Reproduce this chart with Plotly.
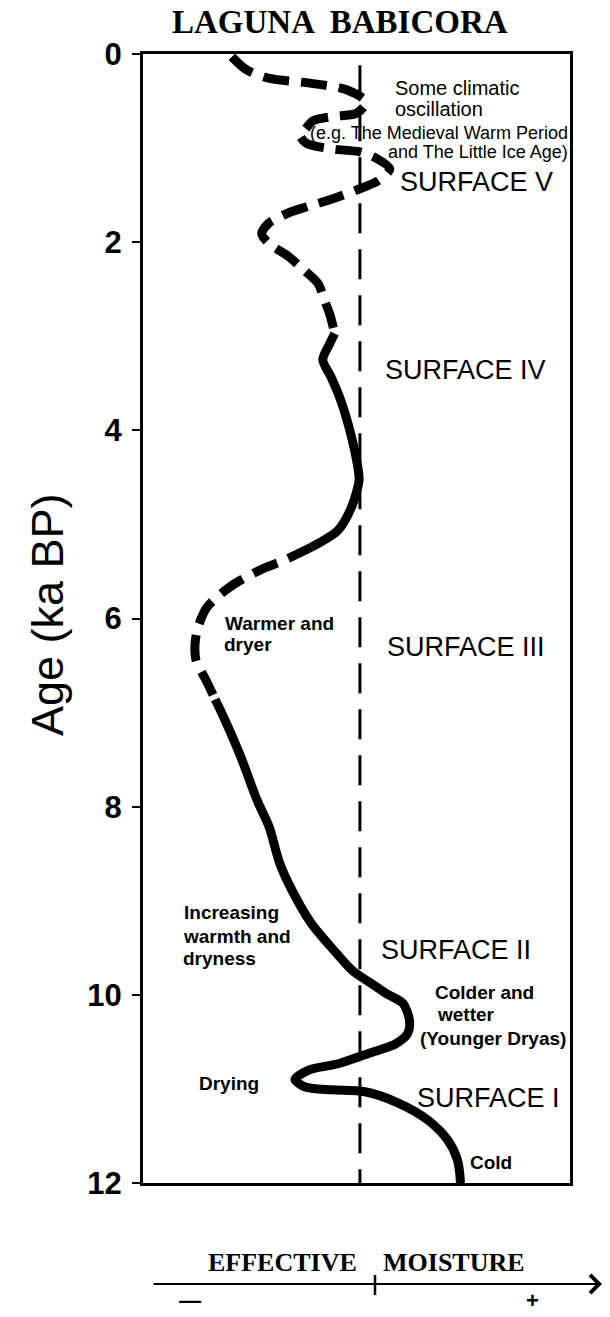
import plotly.graph_objects as go

# ---------------- data (age in ka BP, effective moisture as % of panel width) ----------
age_dash_top = [0.03, 0.17, 0.26, 0.31, 0.38, 0.51, 0.63, 0.66, 0.71, 0.80, 0.86, 0.95, 1.01,
                1.04, 1.11, 1.22, 1.34, 1.45, 1.53, 1.62, 1.69, 1.80, 1.91, 2.01, 2.15, 2.30,
                2.44, 2.62, 2.76, 2.97]
moist_dash_top = [20.8, 24.3, 29.7, 39.1, 47.7, 52.3, 50.0, 45.3, 39.8, 38.0, 36.7, 38.3, 44.5,
                  50.8, 54.7, 57.8, 55.3, 49.8, 45.0, 38.7, 34.0, 29.4, 27.8, 29.4, 34.0, 37.8,
                  41.0, 42.5, 43.7, 44.9]

age_solid_mid = [2.97, 3.10, 3.25, 3.43, 3.68, 4.03, 4.39, 4.53, 4.81, 5.06, 5.24]
moist_solid_mid = [44.9, 43.5, 42.1, 44.0, 46.3, 48.6, 50.3, 50.6, 48.9, 45.7, 39.5]

age_dash_mid = [5.24, 5.38, 5.48, 5.66, 5.88, 6.16, 6.44, 6.65, 6.86]
moist_dash_mid = [39.5, 33.1, 27.6, 20.5, 15.0, 12.5, 12.4, 14.7, 16.9]

age_solid_low = [6.86, 7.08, 7.47, 7.93, 8.21, 8.60, 8.89, 9.24, 9.49, 9.74, 9.88, 9.99, 10.09,
                 10.27, 10.41, 10.52, 10.62, 10.73, 10.80, 10.90, 10.98, 11.01, 11.03, 11.15,
                 11.33, 11.54, 11.75, 11.96, 12.0]
moist_solid_low = [16.9, 19.2, 22.9, 26.7, 29.5, 32.0, 34.9, 39.4, 44.0, 49.0, 53.5, 57.1, 60.9,
                   62.4, 62.0, 59.2, 53.0, 45.9, 38.8, 35.6, 38.0, 44.2, 52.0, 59.8,
                   66.7, 71.3, 73.6, 74.3, 74.3]

mean_moisture = 50.8          # dashed reference line
ref_age = [0.12, 12.0]

age_ticks = [0, 2, 4, 6, 8, 10, 12]

# notes: (text, age, moisture, anchor, bold, size)
notes = [
    ("Some climatic", 0.36, 58.6, "left", False, 20),
    ("oscillation", 0.58, 58.5, "left", False, 20),
    ("(e.g. The Medieval Warm Period", 0.84, 99.9, "right", False, 18),
    ("and The Little Ice Age)", 1.04, 99.9, "right", False, 18),
    ("SURFACE V", 1.36, 59.7, "left", False, 27),
    ("SURFACE IV", 3.36, 56.1, "left", False, 27),
    ("SURFACE III", 6.30, 56.6, "left", False, 27),
    ("Warmer and", 6.05, 18.7, "left", True, 19),
    ("dryer", 6.28, 18.6, "left", True, 19),
    ("Increasing", 9.13, 9.1, "left", True, 19),
    ("warmth and", 9.38, 9.0, "left", True, 19),
    ("dryness", 9.61, 8.9, "left", True, 19),
    ("SURFACE II", 9.52, 55.3, "left", False, 27),
    ("Colder and", 9.98, 68.0, "left", True, 19),
    ("wetter", 10.21, 68.4, "left", True, 19),
    ("(Younger Dryas)", 10.46, 99.6, "right", True, 19),
    ("Drying", 10.94, 12.6, "left", True, 19),
    ("SURFACE I", 11.10, 63.6, "left", False, 27),
    ("Cold", 11.78, 76.2, "left", True, 19),
]

# ---------------- figure ----------------
W, H = 610, 1317
ML, MR, MT, MB = 143, 40, 54, 134
PW, PH = W - ML - MR, H - MT - MB

def px(xp):
    return (xp - ML) / PW

def py(yp):
    return 1 - (yp - MT) / PH

fig = go.Figure()

fig.add_trace(go.Scatter(x=[mean_moisture] * len(ref_age), y=ref_age, mode="lines",
                         line=dict(color="black", width=3, dash="30px,16px"),
                         hoverinfo="skip"))

curve_style = dict(color="black", width=9, shape="spline", smoothing=0.8)
for xs, ys, dash in [(moist_dash_top, age_dash_top, "26px,12px"),
                     (moist_solid_mid, age_solid_mid, "solid"),
                     (moist_dash_mid, age_dash_mid, "26px,12px"),
                     (moist_solid_low, age_solid_low, "solid")]:
    fig.add_trace(go.Scatter(x=xs, y=ys, mode="lines",
                             line=dict(dash=dash, **curve_style), hoverinfo="skip"))

sans = "Liberation Sans, Arial, sans-serif"
serif = "Liberation Serif, Times New Roman, serif"

annotations = []
for text, a, m, anchor, bold, size in notes:
    annotations.append(dict(
        x=m, y=a, xref="x", yref="y", text=f"<b>{text}</b>" if bold else text,
        showarrow=False, xanchor=anchor, yanchor="middle",
        font=dict(family=sans, size=size, color="black")))

# title
annotations.append(dict(x=px(340), y=py(22), xref="paper", yref="paper",
                        text="<b>LAGUNA  BABICORA</b>", showarrow=False,
                        xanchor="center", yanchor="middle",
                        font=dict(family=serif, size=33, color="black")))
# y title
annotations.append(dict(x=px(47), y=py(615), xref="paper", yref="paper",
                        text="Age (ka BP)", textangle=-90, showarrow=False,
                        xanchor="center", yanchor="middle",
                        font=dict(family=sans, size=45, color="black")))
# effective moisture axis
annotations.append(dict(x=px(282), y=py(1262), xref="paper", yref="paper",
                        text="<b>EFFECTIVE</b>", showarrow=False, xanchor="center",
                        yanchor="middle", font=dict(family=serif, size=26, color="black")))
annotations.append(dict(x=px(454), y=py(1262), xref="paper", yref="paper",
                        text="<b>MOISTURE</b>", showarrow=False, xanchor="center",
                        yanchor="middle", font=dict(family=serif, size=26, color="black")))
annotations.append(dict(x=px(602), y=py(1284), ax=-(602 - 152), ay=0,
                        xref="paper", yref="paper", axref="pixel", ayref="pixel",
                        text="", showarrow=True, arrowhead=4, arrowsize=1.6,
                        arrowwidth=2.2, arrowcolor="black"))
annotations.append(dict(x=px(190), y=py(1300), xref="paper", yref="paper",
                        text="<b>—</b>", showarrow=False, xanchor="center",
                        yanchor="middle", font=dict(family=sans, size=22, color="black")))
annotations.append(dict(x=px(532), y=py(1300), xref="paper", yref="paper",
                        text="<b>+</b>", showarrow=False, xanchor="center",
                        yanchor="middle", font=dict(family=sans, size=22, color="black")))

shapes = [dict(type="line", xref="paper", yref="paper", x0=px(375), x1=px(375),
               y0=py(1275), y1=py(1295), line=dict(color="black", width=2.5))]

fig.update_layout(
    width=W, height=H, autosize=False,
    margin=dict(l=ML, r=MR, t=MT, b=MB),
    paper_bgcolor="white", plot_bgcolor="white",
    showlegend=False,
    annotations=annotations, shapes=shapes,
    xaxis=dict(range=[0, 100], showgrid=False, zeroline=False, showticklabels=False,
               ticks="", showline=True, mirror=True, linecolor="black", linewidth=3,
               fixedrange=True),
    yaxis=dict(range=[12, 0], tickvals=age_ticks, ticktext=[str(t) for t in age_ticks],
               showgrid=False, zeroline=False, ticks="outside", ticklen=8, tickwidth=2,
               tickcolor="black", ticklabelstandoff=4,
               tickfont=dict(family=sans, size=31, color="black", weight="bold"),
               showline=True, mirror=True, linecolor="black", linewidth=3,
               fixedrange=True),
)

fig.write_html("out.html", config={"displayModeBar": False},
               post_script="document.body.style.margin='0px';")
